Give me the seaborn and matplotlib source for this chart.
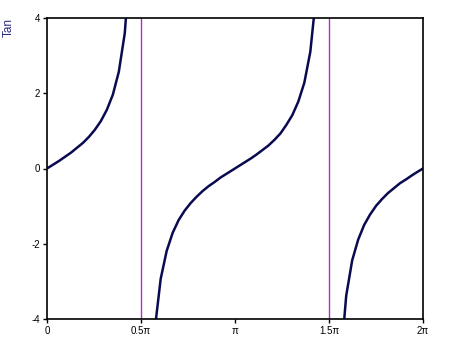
import numpy as np
import matplotlib
matplotlib.use("Agg")
import matplotlib.pyplot as plt
import pandas as pd
import seaborn as sns

# tan(x) sampled every 0.1 rad, split into branches at the asymptotes
x_b1 = [0.0, 0.1, 0.2, 0.3, 0.4, 0.5, 0.6, 0.7, 0.8, 0.9, 1.0, 1.1, 1.2, 1.3, 1.4, 1.5]
y_b1 = [0.0, 0.10, 0.20, 0.31, 0.42, 0.55, 0.68, 0.84, 1.03, 1.26, 1.56, 1.96, 2.57, 3.60, 5.80, 14.10]

x_b2 = [1.6, 1.7, 1.8, 1.9, 2.0, 2.1, 2.2, 2.3, 2.4, 2.5, 2.6, 2.7, 2.8, 2.9, 3.0, 3.1,
        3.2, 3.3, 3.4, 3.5, 3.6, 3.7, 3.8, 3.9, 4.0, 4.1, 4.2, 4.3, 4.4, 4.5, 4.6, 4.7]
y_b2 = [-34.23, -7.70, -4.29, -2.93, -2.19, -1.71, -1.37, -1.12, -0.92, -0.75, -0.60, -0.47,
        -0.36, -0.24, -0.14, -0.04, 0.06, 0.16, 0.26, 0.37, 0.49, 0.61, 0.76, 0.93, 1.16,
        1.42, 1.78, 2.28, 3.10, 4.64, 8.86, 80.7]

x_b3 = [4.8, 4.9, 5.0, 5.1, 5.2, 5.3, 5.4, 5.5, 5.6, 5.7, 5.8, 5.9, 6.0, 6.1, 6.2, 6.2832]
y_b3 = [-11.38, -5.27, -3.38, -2.44, -1.89, -1.50, -1.22, -0.99, -0.81, -0.65, -0.52,
        -0.39, -0.29, -0.18, -0.08, 0.0]

asymptotes = [0.5 * np.pi, 1.5 * np.pi]
xtick_vals = [0, 0.5 * np.pi, np.pi, 1.5 * np.pi, 2 * np.pi]
xtick_labels = ["0", "0.5\u03c0", "\u03c0", "1.5\u03c0", "2\u03c0"]
ytick_vals = [-4, -2, 0, 2, 4]

df = pd.concat([
    pd.DataFrame({"x": x_b1, "y": y_b1, "branch": 1}),
    pd.DataFrame({"x": x_b2, "y": y_b2, "branch": 2}),
    pd.DataFrame({"x": x_b3, "y": y_b3, "branch": 3}),
])

sns.set_style("white")
plt.rcParams["font.family"] = ["Liberation Sans", "DejaVu Sans"]
plt.rcParams["axes.unicode_minus"] = False

fig = plt.figure(figsize=(4.71, 3.62), dpi=100)
ax = fig.add_axes([47 / 471, 1 - 319 / 362, 376 / 471, 301 / 362])

for xv in asymptotes:
    ax.axvline(xv, color="#b030c0", lw=1.0, zorder=1)

sns.lineplot(data=df, x="x", y="y", units="branch", estimator=None, sort=False,
             color="#0a0a50", lw=1.8, ax=ax, zorder=2)

ax.set_xlim(0, 2 * np.pi)
ax.set_ylim(-4, 4)
ax.set_xticks(xtick_vals)
ax.set_xticklabels(xtick_labels)
ax.set_yticks(ytick_vals)
ax.tick_params(direction="out", length=3, width=1, labelsize=7, pad=2,
               bottom=True, left=True, colors="black")
ax.set_xlabel("")
ax.set_ylabel("")
# y label sits at the top left, outside the frame
fig.text(9 / 471, 1 - 18 / 362, "Tan", rotation=90, ha="center", va="top",
         color="#2a2a80", fontsize=8.5)

for s in ax.spines.values():
    s.set_color("black")
    s.set_linewidth(1.2)

fig.savefig("out.png", dpi=100)
